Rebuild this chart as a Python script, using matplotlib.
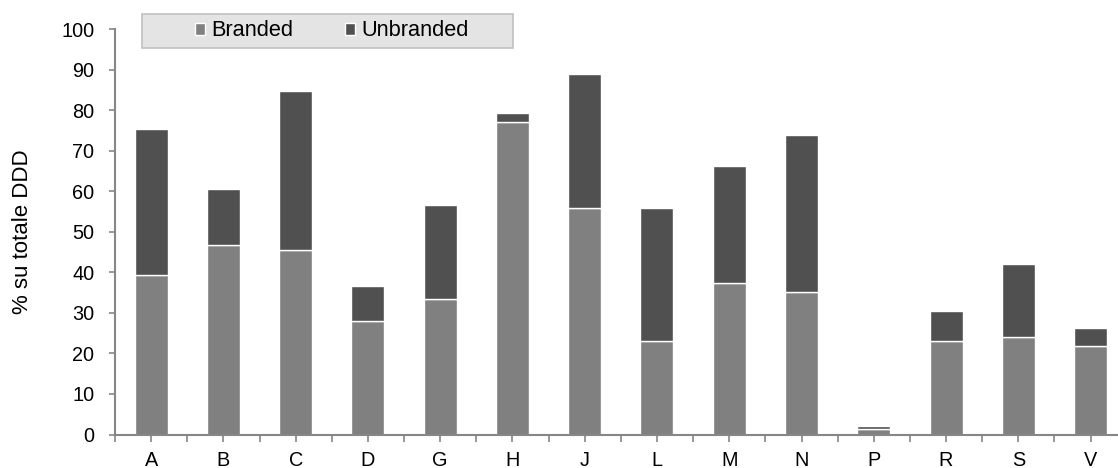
import matplotlib
matplotlib.use("Agg")
import matplotlib.pyplot as plt
import numpy as np
from matplotlib.patches import Patch, Rectangle

categories = ["A", "B", "C", "D", "G", "H", "J", "L", "M", "N", "P", "R", "S", "V"]
branded = [39.4, 46.7, 45.6, 28.0, 33.5, 77.2, 55.9, 23.0, 37.4, 35.1, 1.3, 23.1, 24.0, 21.9]
totals = [75.3, 60.5, 84.7, 36.6, 56.7, 79.4, 89.0, 55.8, 66.2, 73.8, 2.1, 30.6, 42.2, 26.4]
unbranded = [t - b for t, b in zip(totals, branded)]
yticks = list(range(0, 101, 10))

plt.rcParams['font.family'] = ['Liberation Sans', 'DejaVu Sans']

W, H = 1118, 468
ax_l, ax_r, ax_b, ax_t = 115.0, 1126.7, 434.5, 29.3
fig = plt.figure(figsize=(W / 100, H / 100), dpi=100)
ax = fig.add_axes([ax_l / W, 1 - ax_b / H, (ax_r - ax_l) / W, (ax_b - ax_t) / H])

x = np.arange(len(categories))
c_br = "#808080"
c_un = "#505050"
w = 0.457
ax.bar(x, branded, width=w, color=c_br, edgecolor="white", linewidth=1.0)
ax.bar(x, unbranded, bottom=branded, width=w, color=c_un, edgecolor="white", linewidth=1.0)

ax.set_xlim(-0.5, len(categories) - 0.5)
ax.set_ylim(0, 100)
ax.set_yticks(yticks)
ax.set_xticks(x)
ax.set_xticklabels(categories)
ax.set_xticks(np.arange(-0.5, len(categories), 1.0), minor=True)

spine_c = "#868686"
for s in ["top", "right"]:
    ax.spines[s].set_visible(False)
for s in ["left", "bottom"]:
    ax.spines[s].set_color(spine_c)
    ax.spines[s].set_linewidth(1.5)

fs = 14.3
ax.tick_params(axis="y", which="major", direction="out", length=4.3, width=1.2, color=spine_c,
               labelsize=fs, pad=10.5, labelcolor="black")
ax.tick_params(axis="x", which="both", direction="out", length=4.8, width=1.2, color=spine_c,
               labelsize=fs, pad=7, labelcolor="black")
ax.set_ylabel("% su totale DDD", fontsize=16)
ax.yaxis.set_label_coords(-(ax_l - 33) / (ax_r - ax_l), 0.5)

# legend box
box = Rectangle((141.7 / W, 1 - 48.3 / H), (513.3 - 141.7) / W, (48.3 - 14) / H,
                transform=fig.transFigure, facecolor="#e4e4e4", edgecolor="#c0c0c0",
                linewidth=1.2, zorder=5)
fig.patches.append(box)

handles = [Patch(facecolor=c_br, edgecolor="white"), Patch(facecolor=c_un, edgecolor="white")]
leg = fig.legend(handles, ["Branded", "Unbranded"], ncol=2,
                 bbox_to_anchor=(331.7 / W, 1 - 31 / H), loc="center",
                 frameon=False, fontsize=15.7,
                 handlelength=0.45, handleheight=0.45, handletextpad=0.27,
                 columnspacing=2.4, borderpad=0.0)
leg.set_zorder(6)

fig.savefig("out.png", dpi=100)
